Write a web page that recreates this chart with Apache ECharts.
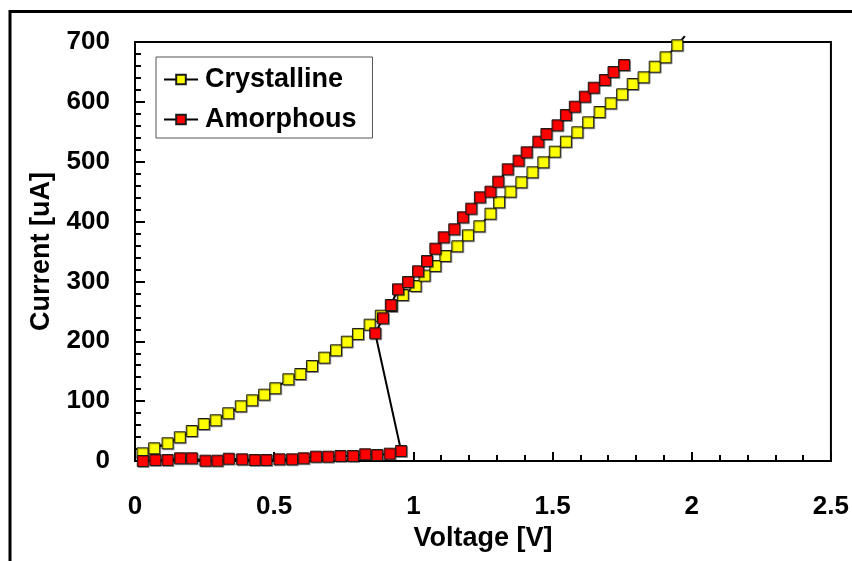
<!DOCTYPE html>
<html>
<head>
<meta charset="utf-8">
<script src="https://cdn.jsdelivr.net/npm/echarts@6/dist/echarts.min.js"></script>
<style>
html,body{margin:0;padding:0;background:#fff;}
#chart{width:852px;height:561px;}
</style>
</head>
<body>
<div id="chart"></div>
<script>
const seriesNames = ['Crystalline', 'Amorphous'];
const xTicks = [0, 0.5, 1, 1.5, 2, 2.5];
const yTicks = [0, 100, 200, 300, 400, 500, 600, 700];

const crystallineV = [0.027,0.069,0.117,0.161,0.204,0.247,0.290,0.335,0.380,0.421,0.464,0.504,
  0.551,0.594,0.636,0.680,0.722,0.761,0.801,0.843,0.883,0.922,0.962,1.008,
  1.040,1.079,1.115,1.158,1.196,1.237,1.277,1.308,1.349,1.388,1.428,1.467,
  1.508,1.548,1.589,1.628,1.669,1.709,1.750,1.788,1.827,1.867,1.906,1.948];
const crystallineI = [12.8,21.2,29.6,39.6,50.1,61.8,68.0,79.7,91.4,101.4,110.8,121.5,
  136.5,145.3,158.7,172.6,184.9,199.3,212.2,227.7,242.7,258.9,277.3,292.4,
  309.6,325.8,342.5,358.7,377.0,392.1,413.1,432.2,449.9,465.6,482.3,499.0,
  516.7,533.4,549.1,565.8,583.0,597.6,612.6,629.8,641.0,658.7,674.4,694.5];
// line continues past last marker up to the frame
const crystallineTail = [1.975, 710];

const amorphousV = [0.028,0.073,0.117,0.162,0.204,0.253,0.296,0.337,0.385,0.430,0.472,
  0.519,0.564,0.606,0.650,0.694,0.738,0.783,0.827,0.870,0.915,0.956,
  0.863,0.891,0.919,0.945,0.981,1.017,1.049,1.079,1.109,1.147,1.178,1.208,1.239,1.277,
  1.305,1.339,1.378,1.407,1.449,1.478,1.518,1.548,1.580,1.616,1.648,1.688,1.719,1.757];
const amorphousI = [0,1.7,1.7,4.5,4.5,0.5,0.5,3.8,2.8,1.7,1.7,
  2.8,2.8,4.5,7.2,7.2,8.4,8.4,11.2,10.0,12.2,16.7,
  213.3,238.4,260.6,286.8,299.0,316.9,334.1,354.7,373.7,387.1,407.1,421.5,440.5,449.9,
  466.6,487.3,501.7,515.7,533.4,546.3,560.8,578.0,591.9,608.6,623.6,636.5,649.9,661.5];

const crysData = crystallineV.map((v, i) => [v, crystallineI[i]]);
crysData.push({ value: crystallineTail, symbol: 'none' });
const amorData = amorphousV.map((v, i) => [v, amorphousI[i]]);

const FONT = 'Liberation Sans, Arial, sans-serif';
const markerStyle = (c) => ({
  color: c, borderColor: '#1a1a1a', borderWidth: 1,
  shadowColor: 'rgba(0,0,0,0.35)', shadowOffsetX: 1, shadowOffsetY: 1, shadowBlur: 0
});

const chart = echarts.init(document.getElementById('chart'), null, { renderer: 'canvas' });
chart.setOption({
  animation: false,
  backgroundColor: '#fff',
  graphic: [{
    type: 'polyline', silent: true,
    shape: { points: [[10, 570], [10, 11.5], [860, 11.5]] },
    style: { stroke: '#000', lineWidth: 3, fill: null }
  }],
  grid: { left: 135, top: 42, right: 18, bottom: 100, show: true, borderColor: '#000', borderWidth: 2, backgroundColor: 'transparent' },
  legend: {
    orient: 'vertical', left: 156, top: 57,
    data: seriesNames,
    backgroundColor: '#fff', borderColor: '#555', borderWidth: 1,
    padding: [9, 16, 5, 7], itemGap: 13, itemWidth: 34, itemHeight: 12,
    textStyle: { fontFamily: FONT, fontWeight: 'bold', fontSize: 27, color: '#000', padding: [0, 0, 0, 2] }
  },
  xAxis: {
    type: 'value', min: xTicks[0], max: xTicks[xTicks.length - 1], interval: 0.5,
    name: 'Voltage [V]', nameLocation: 'middle', nameGap: 60,
    nameTextStyle: { fontFamily: FONT, fontWeight: 'bold', fontSize: 27, color: '#000' },
    axisLine: { show: true, onZero: false, lineStyle: { color: '#000', width: 2 } },
    axisTick: { show: true, inside: true, length: 9, lineStyle: { color: '#000', width: 2 } },
    minorTick: { show: true, splitNumber: 5, length: 6, lineStyle: { color: '#000', width: 2 } },
    axisLabel: { margin: 33, fontFamily: FONT, fontWeight: 'bold', fontSize: 26, color: '#000', showMinLabel: true, showMaxLabel: true,
      formatter: (v) => String(v) },
    splitLine: { show: false }
  },
  yAxis: {
    type: 'value', min: yTicks[0], max: yTicks[yTicks.length - 1], interval: 100,
    name: 'Current [uA]', nameLocation: 'middle', nameGap: 80, nameRotate: 90,
    nameTextStyle: { fontFamily: FONT, fontWeight: 'bold', fontSize: 27, color: '#000' },
    axisLine: { show: true, onZero: false, lineStyle: { color: '#000', width: 2 } },
    axisTick: { show: true, inside: true, length: 10, lineStyle: { color: '#000', width: 2 } },
    minorTick: { show: true, splitNumber: 5, length: 6, lineStyle: { color: '#000', width: 2 } },
    axisLabel: { margin: 25, fontFamily: FONT, fontWeight: 'bold', fontSize: 26, color: '#000', showMinLabel: true, showMaxLabel: true },
    splitLine: { show: false }
  },
  series: [
    {
      name: seriesNames[0], type: 'line', data: crysData, clip: false,
      symbol: 'rect', symbolSize: 11, showAllSymbol: true,
      lineStyle: { color: '#000', width: 2 },
      itemStyle: markerStyle('#ffff00'),
      emphasis: { disabled: true }
    },
    {
      name: seriesNames[1], type: 'line', data: amorData, clip: false,
      symbol: 'rect', symbolSize: 11, showAllSymbol: true,
      lineStyle: { color: '#000', width: 2 },
      itemStyle: markerStyle('#ff0000'),
      emphasis: { disabled: true }
    }
  ]
});
</script>
</body>
</html>
